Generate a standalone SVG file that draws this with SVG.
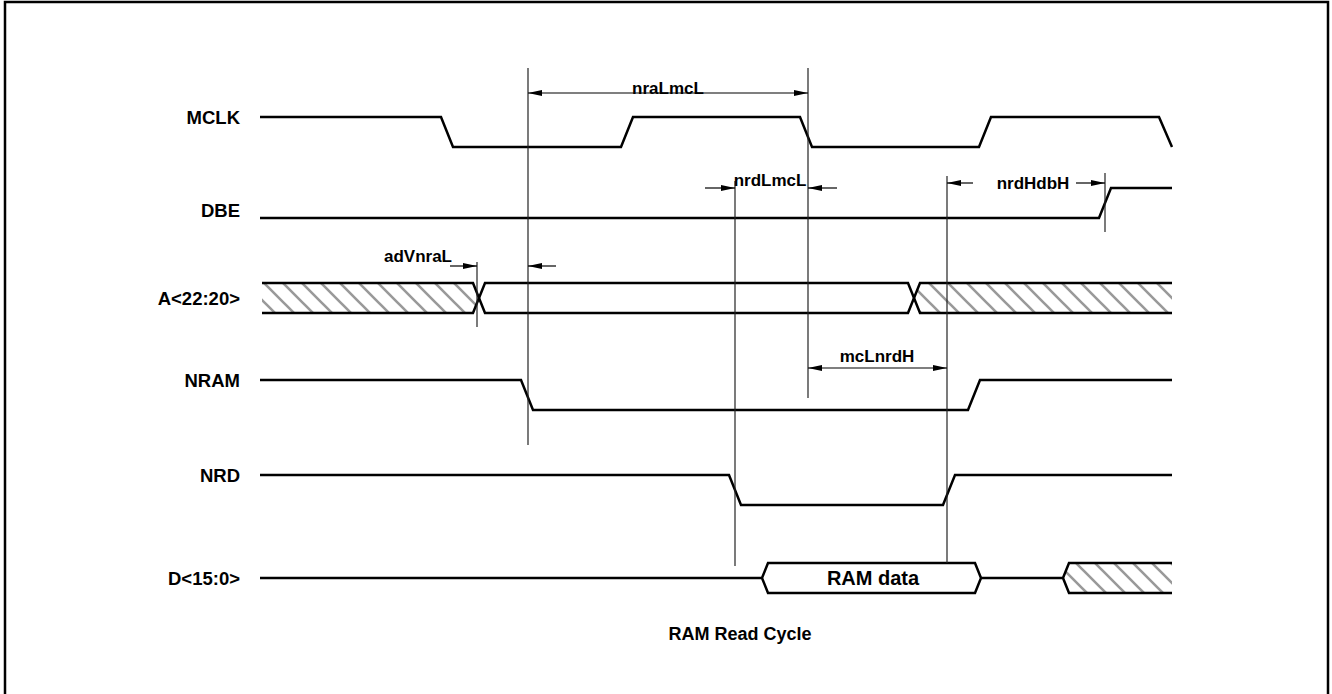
<svg xmlns="http://www.w3.org/2000/svg" width="1332" height="694" viewBox="0 0 1332 694">
<defs>
<pattern id="hatch" patternUnits="userSpaceOnUse" width="19" height="19">
<path d="M-5,-5 L24,24 M-5,14 L5,24 M14,-5 L24,5" stroke="#999" stroke-width="2.6" fill="none"/>
</pattern>
<marker id="ah" viewBox="0 0 14 6" refX="14" refY="3" markerWidth="14" markerHeight="6" markerUnits="userSpaceOnUse" orient="auto-start-reverse">
<path d="M0,0 L14,3 L0,6 Z" fill="#000"/>
</marker>
</defs>
<style>
.w{fill:none;stroke:#000;stroke-width:2.5;stroke-linejoin:miter}
.ext{fill:none;stroke:#222;stroke-width:1.2}
.dim{fill:none;stroke:#000;stroke-width:1.2}
.lbl{font-family:"Liberation Sans",Arial,sans-serif;font-weight:bold;font-size:17px;fill:#000}
.sig{text-anchor:end;font-size:18.5px}
.mid{text-anchor:middle}
.big{font-size:20px}
.ttl{font-size:18px}
.h{fill:url(#hatch);stroke:none}
</style>
<rect x="5" y="2" width="1323" height="720" fill="#fff" stroke="#000" stroke-width="2.5"/>

<g id="MCLK">
<text class="lbl sig" x="240" y="124">MCLK</text>
<path class="w" d="M260,117 H441 L453,147 H621 L633,117 H800 L812,147 H979 L991,117 H1159 L1172,147"/>
</g>

<g id="DBE">
<text class="lbl sig" x="240" y="217">DBE</text>
<path class="w" d="M260,218 H1099 L1111,188 H1172"/>
</g>

<g id="A">
<text class="lbl sig" x="240" y="305">A&lt;22:20&gt;</text>
<polygon class="h" points="262,283 473,283 479,298 473,313 262,313"/>
<polygon class="h" points="920,283 1172,283 1172,313 920,313 914,298"/>
<path class="w" d="M262,283 H473 L485,313 H908 L920,283 H1172"/>
<path class="w" d="M262,313 H473 L485,283 H908 L920,313 H1172"/>
</g>

<g id="NRAM">
<text class="lbl sig" x="240" y="387">NRAM</text>
<path class="w" d="M260,380 H521 L533,410 H968 L980,380 H1172"/>
</g>

<g id="NRD">
<text class="lbl sig" x="240" y="482">NRD</text>
<path class="w" d="M260,475 H729 L741,505 H943 L955,475 H1172"/>
</g>

<g id="D">
<text class="lbl sig" x="240" y="585">D&lt;15:0&gt;</text>
<polygon class="h" points="1063,578 1069,563 1172,563 1172,593 1069,593"/>
<path class="w" d="M260,578 H762 L768,563 H975 L981,578 L975,593 H768 L762,578 Z"/>
<path class="w" d="M981,578 H1063 L1069,563 H1172 M1063,578 L1069,593 H1172"/>
<text class="lbl mid big" x="873" y="585">RAM data</text>
</g>

<g id="connectors">
<line class="ext" x1="528" y1="68" x2="528" y2="445"/>
<line class="ext" x1="808" y1="68" x2="808" y2="398"/>
<line class="ext" x1="735" y1="181" x2="735" y2="566"/>
<line class="ext" x1="947" y1="176" x2="947" y2="563"/>
<line class="ext" x1="1105" y1="173" x2="1105" y2="232"/>
<line class="ext" x1="477" y1="262" x2="477" y2="327"/>

<line class="dim" x1="528" y1="93" x2="808" y2="93" marker-start="url(#ah)" marker-end="url(#ah)"/>
<text class="lbl mid" x="668" y="94">nraLmcL</text>

<line class="dim" x1="705" y1="188" x2="735" y2="188" marker-end="url(#ah)"/>
<line class="dim" x1="837" y1="188" x2="808" y2="188" marker-end="url(#ah)"/>
<text class="lbl mid" x="770" y="186">nrdLmcL</text>

<line class="dim" x1="973" y1="183" x2="947" y2="183" marker-end="url(#ah)"/>
<line class="dim" x1="1076" y1="183" x2="1105" y2="183" marker-end="url(#ah)"/>
<text class="lbl mid" x="1033" y="189">nrdHdbH</text>

<line class="dim" x1="450" y1="266" x2="477" y2="266" marker-end="url(#ah)"/>
<line class="dim" x1="556" y1="266" x2="528" y2="266" marker-end="url(#ah)"/>
<text class="lbl mid" x="418" y="262">adVnraL</text>

<line class="dim" x1="808" y1="368" x2="947" y2="368" marker-start="url(#ah)" marker-end="url(#ah)"/>
<text class="lbl mid" x="877" y="362">mcLnrdH</text>
</g>

<text class="lbl mid ttl" x="740" y="640">RAM Read Cycle</text>
</svg>
